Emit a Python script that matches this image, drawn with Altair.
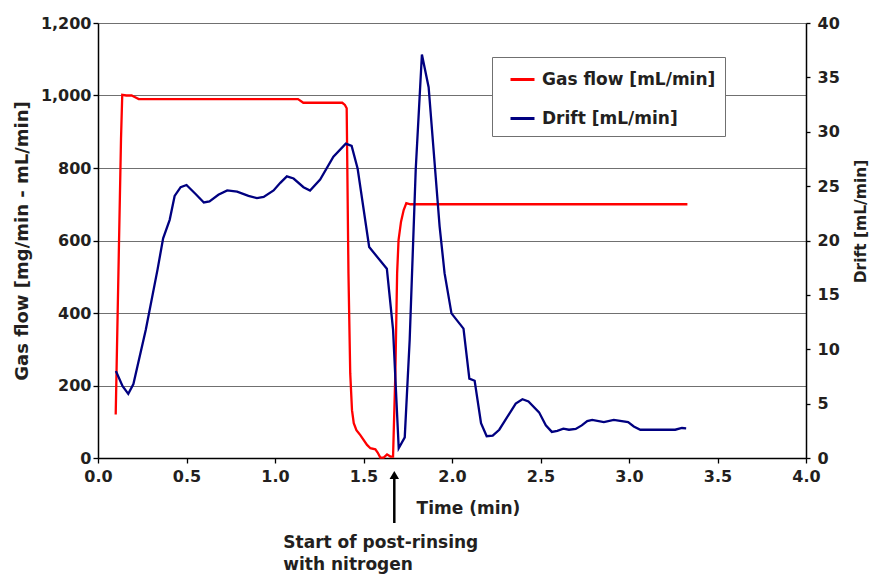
import altair as alt
import pandas as pd

# ---- data ----
gas_time = [0.10, 0.115, 0.13, 0.137, 0.16, 0.19, 0.21, 0.23, 0.40, 0.60, 0.80, 1.00,
            1.13, 1.16, 1.30, 1.38, 1.395, 1.405, 1.415, 1.425, 1.435, 1.445, 1.46,
            1.482, 1.52, 1.539, 1.567, 1.58, 1.595, 1.614, 1.633, 1.652, 1.667,
            1.68, 1.69, 1.698, 1.712, 1.727, 1.742, 1.765, 2.0, 2.5, 3.0, 3.33]
gas_flow = [120, 500, 880, 1002, 1000, 1000, 995, 990, 990, 990, 990, 990,
            990, 980, 980, 980, 974, 965, 510, 234, 132, 96, 77,
            63, 36, 27, 24, 15, 1, 1, 10, 4, 4,
            234, 510, 601, 652, 684, 703, 700, 700, 700, 700, 700]

drift_time = [0.101, 0.139, 0.171, 0.20, 0.27, 0.336, 0.368, 0.405, 0.433, 0.467, 0.50,
              0.55, 0.598, 0.63, 0.68, 0.73, 0.786, 0.85, 0.898, 0.936, 0.992, 1.03,
              1.067, 1.105, 1.161, 1.198, 1.255, 1.33, 1.40, 1.433, 1.467, 1.532,
              1.632, 1.667, 1.699, 1.733, 1.761, 1.795, 1.83, 1.868, 1.93, 1.958,
              1.997, 2.065, 2.098, 2.128, 2.164, 2.196, 2.23, 2.267, 2.36, 2.398,
              2.432, 2.492, 2.53, 2.564, 2.595, 2.629, 2.661, 2.699, 2.733, 2.764,
              2.792, 2.858, 2.914, 2.995, 3.027, 3.064, 3.261, 3.299, 3.323]
drift_values = [8.0, 6.6, 5.9, 6.8, 11.8, 17.3, 20.2, 21.9, 24.1, 24.9, 25.1,
                24.3, 23.5, 23.6, 24.2, 24.6, 24.5, 24.1, 23.9, 24.0, 24.6, 25.3,
                25.9, 25.7, 24.9, 24.6, 25.6, 27.7, 28.9, 28.7, 26.6, 19.4,
                17.4, 11.8, 0.9, 1.9, 10.9, 26.5, 37.1, 34.1, 21.3, 17.0,
                13.3, 11.9, 7.3, 7.1, 3.2, 2.0, 2.05, 2.6, 5.0, 5.4,
                5.2, 4.2, 3.0, 2.4, 2.5, 2.7, 2.6, 2.67, 3.0, 3.4,
                3.5, 3.3, 3.5, 3.3, 2.9, 2.6, 2.6, 2.76, 2.73]

x_ticks = [0.0, 0.5, 1.0, 1.5, 2.0, 2.5, 3.0, 3.5, 4.0]
left_ticks = [0, 200, 400, 600, 800, 1000, 1200]
right_ticks = [0, 5, 10, 15, 20, 25, 30, 35, 40]
series_names = ["Gas flow [mL/min]", "Drift [mL/min]"]
series_colors = ["#ff0000", "#000080"]
annotation_time = [1.674]
annotation_label = ["Start of post-rinsing\nwith nitrogen"]

gas_df = pd.DataFrame({"time": gas_time, "value": gas_flow, "series": series_names[0]})
drift_df = pd.DataFrame({"time": drift_time, "value": drift_values, "series": series_names[1]})
ann_df = pd.DataFrame({"time": annotation_time, "label": annotation_label})

FONT = "DejaVu Sans"
TXT = "#231f20"

color = alt.Color(
    "series:N",
    scale=alt.Scale(domain=series_names, range=series_colors),
    legend=alt.Legend(
        title=None, orient="none", legendX=394, legendY=34,
        symbolType="stroke", symbolSize=576, symbolStrokeWidth=3,
        labelFont=FONT, labelFontSize=17, labelFontWeight="bold", labelColor=TXT,
        strokeColor="#707070", fillColor="white", padding=9, rowPadding=17,
        labelOffset=6, symbolOffset=8, labelLimit=400,
    ),
)

x = alt.X(
    "time:Q",
    scale=alt.Scale(domain=[0, 4], nice=False),
    axis=alt.Axis(values=x_ticks, format=".1f", title="Time (min)", labelFlush=False,
                  titleX=370, titleY=50, titleBaseline="middle", titleAlign="center",
                  titleFontSize=17, tickSize=5, labelPadding=5, grid=False),
)

gas = alt.Chart(gas_df).mark_line(strokeWidth=2.3).encode(
    x=x,
    y=alt.Y("value:Q", scale=alt.Scale(domain=[0, 1200], nice=False),
            axis=alt.Axis(values=left_ticks, format=",d", title="Gas flow [mg/min - mL/min]",
                          grid=True, gridColor="#707070", gridWidth=1.2,
                          tickSize=5, labelPadding=2, titleFontSize=18,
                          titleX=-76, titleY=217.5, titleBaseline="middle", titleAlign="center")),
    color=color,
)

drift = alt.Chart(drift_df).mark_line(strokeWidth=2.3).encode(
    x=x,
    y=alt.Y("value:Q", scale=alt.Scale(domain=[0, 40], nice=False),
            axis=alt.Axis(orient="right", values=right_ticks, title="Drift [mL/min]",
                          grid=False, tickSize=4, labelPadding=7, titleFontSize=15.5,
                          titleAngle=270, titleX=54, titleY=198, titleBaseline="middle",
                          titleAlign="center")),
    color=color,
)

arrow = alt.Chart(ann_df).mark_rule(strokeWidth=2.5, color="black").encode(
    x=x, y=alt.value(452), y2=alt.value(500)
)
head = alt.Chart(ann_df).mark_point(shape="triangle-up", filled=True, size=90,
                                     color="black", opacity=1).encode(
    x=x, y=alt.value(452)
)
label = alt.Chart(ann_df).mark_text(align="left", baseline="middle", dx=-111,
                                    lineBreak="\n", lineHeight=22, fontSize=17,
                                    font=FONT, fontWeight="bold", color=TXT).encode(
    x=x, y=alt.value(520), text="label:N"
)

chart = (
    alt.layer(gas, drift, arrow, head, label)
    .resolve_scale(y="independent")
    .properties(width=708, height=435,
                padding={"left": 90, "top": 15, "right": 63, "bottom": 116},
                autosize=alt.AutoSizeParams(type="none"))
    .configure_view(stroke=None)
    .configure_axis(labelFont=FONT, labelFontSize=16, labelFontWeight="bold",
                    labelColor=TXT, titleFont=FONT, titleFontWeight="bold",
                    titleColor=TXT, domainColor="black", domainWidth=1.5,
                    tickColor="black", tickWidth=1.3)
)

chart.save("out.html", embed_options={"renderer": "svg", "actions": False})
